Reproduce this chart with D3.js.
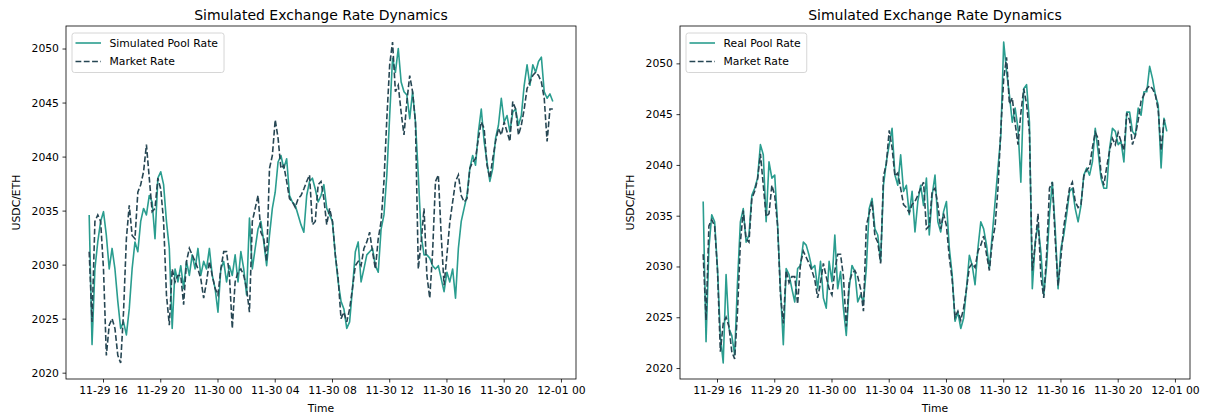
<!DOCTYPE html>
<html>
<head>
<meta charset="utf-8">
<script src="https://cdn.jsdelivr.net/npm/d3@7"></script>
<style>
  body { margin: 0; background: #fff; }
  text { font-family: "DejaVu Sans", sans-serif; fill: #000; }
</style>
</head>
<body>
<div id="chart"></div>
<script>
// samples every 12 minutes
var startTime = new Date(2024, 10, 29, 15, 2);
var stepMinutes = 12;

var simRate = [
  2034.6, 2022.6, 2029.6, 2032.1, 2034.0, 2034.9, 2032.7, 2029.6, 2031.5, 2029.6,
  2026.6, 2024.1, 2024.7, 2023.5, 2025.9, 2029.6, 2032.1, 2031.2, 2034.0, 2035.2,
  2034.6, 2036.4, 2035.8, 2032.4, 2038.0, 2038.6, 2037.4, 2034.0, 2031.5, 2024.1,
  2029.6, 2028.4, 2029.9, 2027.8, 2030.3, 2029.0, 2030.9, 2029.6, 2031.5, 2029.0,
  2030.3, 2029.6, 2031.5, 2029.0, 2027.8, 2025.6, 2029.6, 2030.3, 2028.4, 2029.9,
  2029.0, 2030.9, 2028.4, 2031.2, 2029.6,
  2027.2, 2034.3, 2029.6, 2031.5, 2033.3,
  2034.0, 2032.1, 2029.9, 2032.7, 2035.2, 2036.7, 2039.5, 2040.1, 2038.9, 2039.8,
  2036.4, 2035.8, 2035.5, 2034.6, 2033.7, 2033.0, 2036.4, 2037.7, 2038.0, 2037.0,
  2035.8, 2036.4, 2037.4, 2035.2, 2034.6, 2034.0, 2030.9, 2028.4, 2026.6, 2025.9,
  2024.1, 2024.7, 2027.8, 2031.2, 2032.1, 2028.4, 2029.6, 2030.9, 2031.2, 2031.5,
  2029.9, 2029.3, 2033.3, 2034.6, 2038.3, 2043.8, 2049.1, 2047.8, 2050.0, 2046.9, 2046.0,
  2045.7, 2043.5, 2046.0, 2043.2, 2038.3, 2032.7, 2030.9, 2030.9, 2030.6, 2029.9,
  2029.6, 2029.9, 2028.7, 2027.5, 2029.3, 2028.4, 2029.6, 2026.9, 2031.5, 2034.0,
  2035.2, 2036.4, 2038.9, 2040.1, 2039.2, 2042.3, 2044.4, 2041.4, 2039.5, 2037.7,
  2038.9, 2041.7, 2042.9, 2045.4, 2043.2, 2043.8, 2042.3, 2044.1, 2044.4, 2042.9,
  2043.8, 2046.6, 2048.5, 2046.6, 2048.5, 2047.8, 2048.8, 2049.2, 2046.0, 2045.4, 2045.8, 2045.1
];

var marketRate = [
  2031.2, 2024.7, 2034.0, 2034.6, 2034.0, 2029.6, 2021.6, 2024.4, 2025.0, 2024.1,
  2021.6, 2020.9, 2025.6, 2032.4, 2035.5, 2032.7, 2032.4, 2036.7, 2037.4, 2038.6,
  2041.1, 2038.0, 2034.9, 2035.2, 2038.0, 2037.0, 2034.0, 2027.2, 2024.4, 2029.6,
  2028.4, 2029.0, 2029.0, 2026.3, 2030.3, 2031.5, 2030.9, 2030.3, 2029.6, 2028.7,
  2026.9, 2028.4, 2030.3, 2029.0, 2027.8, 2027.2, 2029.6, 2031.2, 2031.2, 2029.0,
  2024.1, 2028.4, 2029.3, 2029.6, 2029.0,
  2027.8, 2025.6, 2034.0, 2035.2, 2036.4,
  2033.0, 2032.4, 2030.3, 2038.9, 2040.1, 2043.4, 2041.7, 2038.9, 2039.2, 2037.7,
  2036.1, 2035.8, 2035.3, 2036.1, 2036.4, 2037.0, 2037.7, 2038.3, 2033.7, 2034.0,
  2037.4, 2037.7, 2036.1, 2033.7, 2035.2, 2034.0, 2030.9, 2028.7, 2025.0, 2025.6,
  2024.7, 2025.9, 2027.8, 2029.9, 2030.3, 2029.9, 2031.5, 2032.1, 2033.0, 2031.2,
  2029.6, 2032.4, 2034.0, 2037.7, 2043.5, 2048.5, 2050.6, 2046.0, 2046.6, 2044.1, 2042.0,
  2045.1, 2047.5, 2046.0, 2043.2, 2029.6, 2032.1, 2035.2, 2029.0, 2026.9, 2031.2,
  2037.7, 2038.3, 2032.7, 2028.1, 2030.9, 2033.9, 2035.8, 2037.7, 2038.3, 2036.4,
  2035.8, 2036.1, 2038.9, 2039.5, 2039.8, 2041.7, 2043.2, 2042.6, 2039.2, 2038.0,
  2039.8, 2041.4, 2042.6, 2042.0, 2043.2, 2042.3, 2041.4, 2045.1, 2044.4, 2042.0,
  2042.9, 2044.4, 2046.3, 2046.9, 2047.5, 2047.8, 2047.5, 2046.9, 2045.4, 2041.4, 2044.4, 2044.4
];

var realRate = [
  2036.4, 2022.6, 2031.8, 2035.1, 2034.4, 2029.8, 2023.2, 2020.5, 2029.2, 2023.9,
  2023.2, 2021.3, 2028.5, 2034.4, 2035.7, 2032.4, 2033.1, 2037.0, 2037.7, 2038.7,
  2042.0, 2041.0, 2034.4, 2040.3, 2038.7, 2039.0, 2034.1, 2027.8, 2022.3, 2029.8,
  2029.2, 2027.8, 2026.5, 2029.8, 2030.1, 2032.4, 2032.1, 2031.1, 2029.8, 2030.1,
  2027.8, 2030.5, 2026.9, 2025.9, 2030.5, 2028.5, 2033.1, 2027.8, 2029.5, 2025.9,
  2023.2, 2027.8, 2030.1, 2029.5,
  2026.5, 2027.2, 2026.5, 2029.8, 2035.7, 2036.7,
  2033.7, 2033.1, 2030.5, 2038.0, 2040.3, 2042.0, 2043.6, 2039.0, 2038.0, 2041.0,
  2037.4, 2038.0, 2035.1, 2037.4, 2033.4, 2036.4, 2038.0, 2036.0, 2038.7, 2033.1,
  2037.0, 2039.0, 2034.4, 2033.4, 2035.4, 2036.4, 2031.8, 2029.2, 2024.6, 2025.5,
  2023.9, 2024.9, 2027.8, 2031.1, 2030.1, 2028.2, 2031.8, 2034.4, 2033.7, 2032.1,
  2029.8, 2033.1, 2036.4, 2039.7, 2042.9, 2052.1, 2049.2, 2046.9, 2044.2, 2045.6,
  2043.6, 2038.3, 2047.5, 2047.9, 2044.2, 2027.8, 2032.4, 2034.1, 2031.4, 2027.2,
  2030.1, 2035.1, 2038.3, 2033.7, 2027.8, 2031.8, 2033.1, 2035.1, 2037.4, 2037.7,
  2035.7, 2034.4, 2036.0, 2039.0, 2039.7, 2039.0, 2040.3, 2043.6, 2041.3, 2038.7,
  2037.7, 2037.7, 2041.6, 2043.6, 2043.3, 2042.0, 2042.3, 2040.3, 2045.2, 2045.2,
  2043.3, 2042.9, 2045.6, 2044.9, 2047.2, 2047.2, 2049.7, 2048.5, 2046.9, 2045.9, 2039.7, 2044.6, 2043.3
];

var yTicks = [2020, 2025, 2030, 2035, 2040, 2045, 2050];
var panelTitles = ["Simulated Exchange Rate Dynamics", "Simulated Exchange Rate Dynamics"];
var poolLabels = ["Simulated Pool Rate", "Real Pool Rate"];
var marketLabel = "Market Rate";
var xLabel = "Time";
var yLabel = "USDC/ETH";

var poolColor = "#2a9d8f";
var marketColor = "#264653";

drawCharts();

function drawCharts() {
  var times = simRate.map(function(d, i) { return d3.timeMinute.offset(startTime, i * stepMinutes); });

  var svg = d3.select("#chart").append("svg")
    .attr("width", 1205)
    .attr("height", 415);

  var panels = [
    { left: 66, pool: simRate, poolLabel: poolLabels[0], title: panelTitles[0] },
    { left: 680, pool: realRate, poolLabel: poolLabels[1], title: panelTitles[1] }
  ];
  var plotTop = 26, width = 510, height = 353;

  panels.forEach(function(p) {
    var g = svg.append("g").attr("transform", "translate(" + p.left + "," + plotTop + ")");

    // matplotlib-like 5% margins
    var t0 = times[0], t1 = times[times.length - 1];
    var pad = (t1 - t0) * 0.05;
    var x = d3.scaleTime()
      .domain([new Date(+t0 - pad), new Date(+t1 + pad)])
      .range([0, width]);

    var lo = Math.min(d3.min(p.pool), d3.min(marketRate));
    var hi = Math.max(d3.max(p.pool), d3.max(marketRate));
    var ypad = (hi - lo) * 0.05;
    var y = d3.scaleLinear().domain([lo - ypad, hi + ypad]).range([height, 0]);

    var line = d3.line()
      .x(function(d, i) { return x(times[i]); })
      .y(function(d) { return y(d); });

    var plot = g.append("g");
    plot.append("path")
      .datum(p.pool)
      .attr("fill", "none")
      .attr("stroke", poolColor)
      .attr("stroke-width", 1.6)
      .attr("stroke-linejoin", "round")
      .attr("d", line);
    plot.append("path")
      .datum(marketRate)
      .attr("fill", "none")
      .attr("stroke", marketColor)
      .attr("stroke-width", 1.6)
      .attr("stroke-dasharray", "5.8,2.5")
      .attr("d", line);

    // x axis
    var xAxis = g.append("g")
      .attr("transform", "translate(0," + height + ")")
      .call(d3.axisBottom(x)
        .ticks(d3.timeHour.every(4))
        .tickFormat(d3.timeFormat("%m-%d %H"))
        .tickSize(3.5).tickPadding(3.5));
    xAxis.select(".domain").remove();
    xAxis.selectAll("line").attr("stroke", "#000").attr("stroke-width", 0.8);
    xAxis.selectAll("text").style("font-size", "10.8px").style("font-family", "DejaVu Sans").attr("fill", "#000");

    // y axis
    var yAxis = g.append("g")
      .call(d3.axisLeft(y).tickValues(yTicks).tickFormat(d3.format("d"))
        .tickSize(3.5).tickPadding(3.5));
    yAxis.select(".domain").remove();
    yAxis.selectAll("line").attr("stroke", "#000").attr("stroke-width", 0.8);
    yAxis.selectAll("text").style("font-size", "10.8px").style("font-family", "DejaVu Sans").attr("fill", "#000");

    // frame
    g.append("rect")
      .attr("width", width).attr("height", height)
      .attr("fill", "none").attr("stroke", "#000").attr("stroke-width", 0.8);

    // labels
    g.append("text")
      .attr("x", width / 2).attr("y", -6.5)
      .attr("text-anchor", "middle")
      .style("font-size", "14px")
      .text(p.title);
    g.append("text")
      .attr("x", width / 2).attr("y", height + 33)
      .attr("text-anchor", "middle")
      .style("font-size", "10.8px")
      .text(xLabel);
    g.append("text")
      .attr("transform", "rotate(-90)")
      .attr("x", -height / 2).attr("y", -46)
      .attr("text-anchor", "middle")
      .style("font-size", "10.8px")
      .text(yLabel);

    // legend
    var lg = g.append("g").attr("transform", "translate(6,7)");
    var box = lg.append("rect")
      .attr("height", 39.5)
      .attr("rx", 2.5)
      .attr("fill", "#fff").attr("fill-opacity", 0.8)
      .attr("stroke", "#cccccc").attr("stroke-width", 0.8);
    var items = [
      { label: p.poolLabel, color: poolColor, dash: null },
      { label: marketLabel, color: marketColor, dash: "5.8,2.5" }
    ];
    var bw = 0;
    items.forEach(function(it, k) {
      var cy = 10 + k * 18.5;
      lg.append("line")
        .attr("x1", 3.5).attr("x2", 29).attr("y1", cy).attr("y2", cy)
        .attr("stroke", it.color).attr("stroke-width", 1.6)
        .attr("stroke-dasharray", it.dash);
      var t = lg.append("text")
        .attr("x", 37.5).attr("y", cy).attr("dy", "0.35em")
        .style("font-size", "10.8px")
        .text(it.label);
      bw = Math.max(bw, t.node().getComputedTextLength());
    });
    box.attr("width", 37.5 + bw + 6);
  });
}
</script>
</body>
</html>
